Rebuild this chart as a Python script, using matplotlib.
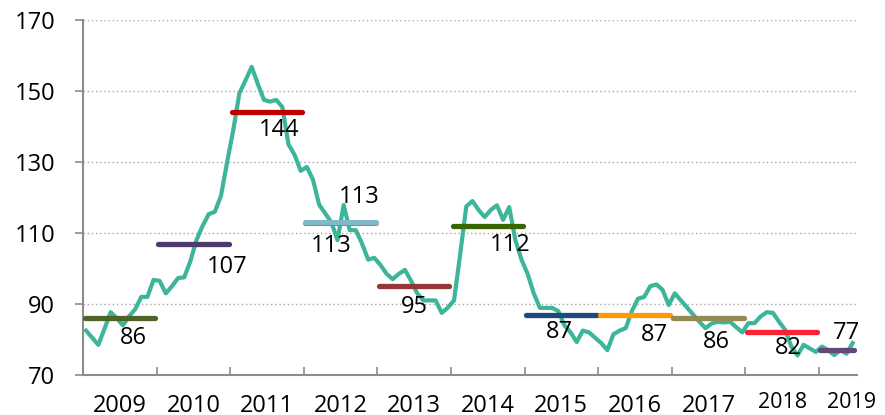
import numpy as np
import matplotlib
matplotlib.use("Agg")
from matplotlib import pyplot as plt

# monthly index, Jan 2009 - Jun 2019
index_values = [
    82.5, 80.5, 78.5, 83.0, 87.7, 86.0, 84.0, 86.5, 88.5, 92.0, 92.0, 96.8,
    96.5, 93.0, 95.0, 97.3, 97.5, 102.0, 108.0, 112.0, 115.3, 116.0, 120.5, 130.0,
    139.0, 149.4, 153.0, 156.8, 152.0, 147.5, 147.0, 147.5, 145.5, 135.0, 132.0, 127.5,
    128.6, 125.0, 118.0, 115.5, 113.0, 108.0, 117.9, 110.8, 110.8, 107.0, 102.5, 103.0,
    101.0, 98.5, 97.0, 98.5, 99.6, 96.5, 93.0, 91.0, 91.0, 91.0, 87.5, 89.0,
    91.0, 104.0, 117.5, 119.0, 116.5, 114.5, 116.5, 117.8, 113.7, 117.3, 108.0, 102.5,
    98.5, 93.0, 88.9, 88.9, 88.9, 88.0, 84.0, 82.0, 79.3, 82.5, 82.0, 80.5,
    79.0, 77.0, 81.5, 82.5, 83.2, 88.0, 91.5, 92.0, 95.0, 95.5, 94.0, 89.7,
    93.0, 91.0, 89.0, 87.0, 85.0, 83.2, 84.5, 85.0, 84.8, 85.0, 83.5, 82.0,
    84.6, 84.6, 86.5, 87.7, 87.5, 85.0, 82.7, 78.0, 75.5, 78.5, 77.5, 76.5,
    78.0, 77.0, 75.6, 77.0, 76.0, 79.0,
]

years = ["2009", "2010", "2011", "2012", "2013", "2014", "2015", "2016", "2017", "2018", "2019"]
year_avg = [86, 107, 144, 113, 95, 112, 87, 87, 86, 82, 77]
avg_colors = ["#4F6228", "#4F3B6B", "#C00000", "#7FBACC", "#953735", "#3A6600",
              "#1F497D", "#FF9900", "#948A54", "#FF2034", "#604A7B"]

# label positions (month, value)
label_pos = [(7.7, 80.4), (23.0, 100.4), (31.4, 139.0), (39.9, 106.3), (53.6, 89.2),
             (69.2, 106.6), (77.2, 82.1), (92.7, 81.3), (102.8, 79.3), (114.5, 77.6),
             (124.0, 81.8)]

plt.rcParams['font.family'] = ['Open Sans', 'DejaVu Sans']

fig = plt.figure(figsize=(8.85, 4.15), dpi=100)
ax = fig.add_axes([0.0938, 0.0964, 0.8745, 0.8554])

n = len(index_values)
months = np.arange(n)
ax.plot(months, index_values, color="#3DB59A", lw=3.0, zorder=3,
        solid_joinstyle="round")

for k, (avg, col) in enumerate(zip(year_avg, avg_colors)):
    x0 = 12 * k - 0.5 + 0.25
    x1 = min(12 * k + 11.5, n - 0.5) - 0.25
    if years[k] == "2012":
        ax.plot([x0, x1], [avg - 0.25, avg - 0.25], color="#C0754A", lw=3.6,
                solid_capstyle="round", zorder=4)
        ax.plot([x0, x1], [avg + 0.15, avg + 0.15], color=col, lw=3.6,
                solid_capstyle="round", zorder=4)
    else:
        ax.plot([x0, x1], [avg, avg], color=col, lw=3.8,
                solid_capstyle="round", zorder=4)

# second 113 label above the 2012 line
ax.text(44.5, 120.1, "113", ha="center", va="center", fontsize=17, zorder=5)
for avg, (lx, ly) in zip(year_avg, label_pos):
    ax.text(lx, ly, str(avg), ha="center", va="center", fontsize=17, zorder=5)

ax.set_xlim(-0.5, 125.7)
ax.set_ylim(70, 170)
ax.set_yticks(np.arange(70, 171, 20))
ax.tick_params(axis="y", direction="out", length=6, width=1.2, color="#8C8C8C",
               labelsize=17, pad=14)
ax.yaxis.grid(True, linestyle=(0, (1, 2)), color="#A6A6A6", lw=1.0)
ax.set_axisbelow(True)

ax.set_xticks([12 * k - 0.5 for k in range(1, 11)])
ax.set_xticklabels([])
ax.tick_params(axis="x", direction="in", length=6, width=1.2, color="#8C8C8C")

year_centers = [12 * k + 5.5 for k in range(10)] + [124.8]
for k, (yc, yl) in enumerate(zip(year_centers, years)):
    if k >= 9:
        ax.text(yc, -0.077, yl, transform=ax.get_xaxis_transform(),
                ha="center", va="center", fontsize=15.5)
    else:
        ax.text(yc, -0.087, yl, transform=ax.get_xaxis_transform(),
                ha="center", va="center", fontsize=17)

for s in ["top", "right"]:
    ax.spines[s].set_visible(False)
for s in ["left", "bottom"]:
    ax.spines[s].set_color("#8C8C8C")
    ax.spines[s].set_linewidth(1.5)

fig.savefig("out.png", dpi=100)
